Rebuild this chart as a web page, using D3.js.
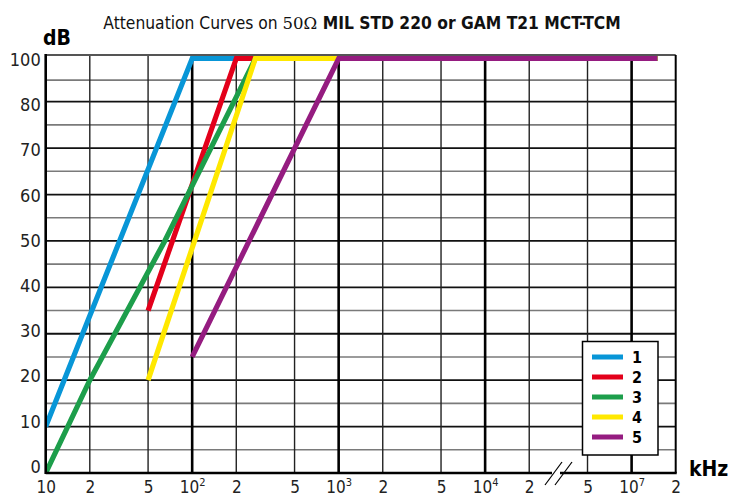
<!DOCTYPE html>
<html>
<head>
<meta charset="utf-8">
<script src="https://cdn.jsdelivr.net/npm/d3@7"></script>
<style>
  body { margin: 0; background: #fff; }
  svg { display: block; }
</style>
</head>
<body>
<svg id="chart" width="729" height="497"></svg>
<script>
// ---- data -------------------------------------------------------------
// Frequency ticks in kHz (the decades between 2·10^4 and 5·10^6 are cut out)
const freqTicks   = [10, 20, 50, 100, 200, 500, 1000, 2000, 5000, 10000, 20000, 5e6, 1e7, 2e7];
const freqLabels  = [["10",""],["2",""],["5",""],["10","2"],["2",""],["5",""],["10","3"],
                     ["2",""],["5",""],["10","4"],["2",""],["5",""],["10","7"],["2",""]];
const decadeTicks = [100, 1000, 10000, 1e7];

// Attenuation ticks in dB (labelled lines and the unlabelled lines between them)
const dbTicks  = [0, 10, 20, 30, 40, 50, 60, 70, 80, 100];
const dbMinor  = [5, 15, 25, 35, 45, 55, 65, 75, 90];

// Curves: [frequency kHz, attenuation dB]
const seriesNames  = ["1", "2", "3", "4", "5"];
const seriesColors = ["#0896d7", "#e3001b", "#1d9e4b", "#ffe800", "#951c80"];
const curve1 = [[10, 10], [100, 100], [1.5e7, 100]];
const curve2 = [[50, 35], [200, 100], [1.5e7, 100]];
const curve3 = [[10, 0], [20, 20], [65, 50], [270, 100], [1.5e7, 100]];
const curve4 = [[50, 20], [270, 100], [1.5e7, 100]];
const curve5 = [[100, 25], [1000, 100], [1.5e7, 100]];
const curves = [curve1, curve2, curve3, curve4, curve5];

// ---- scales -----------------------------------------------------------
const svg = d3.select("#chart");
const plotL = 45.7, plotR = 675.7, plotT = 55, plotB = 473;

// values past the break are folded down by two decades
const BREAK_AT = 1e5, SKIP = 100;
const fold = v => (v > BREAK_AT ? v / SKIP : v);
const xLog = d3.scaleLog().domain([10, 2e5]).range([plotL, plotR]);
const x = v => xLog(fold(v));
// the 100 dB level sits just under the top edge of the frame
const y = d3.scaleLinear().domain([0, 80, 100]).range([plotB, 101.7, 58.5]);

// ---- grid -------------------------------------------------------------
const grid = svg.append("g");
grid.selectAll("line.hminor").data(dbMinor).join("line")
  .attr("x1", plotL).attr("x2", plotR)
  .attr("y1", d => y(d)).attr("y2", d => y(d))
  .attr("stroke", "#7a7a7a").attr("stroke-width", 1.6);
grid.selectAll("line.hmajor").data(dbTicks.filter(d => d > 0 && d < 100)).join("line")
  .attr("x1", plotL).attr("x2", plotR)
  .attr("y1", d => y(d)).attr("y2", d => y(d))
  .attr("stroke", "#111").attr("stroke-width", 1.8);
grid.selectAll("line.v").data(freqTicks.slice(1, -1)).join("line")
  .attr("x1", d => x(d)).attr("x2", d => x(d))
  .attr("y1", plotT).attr("y2", plotB)
  .attr("stroke", d => decadeTicks.includes(d) ? "#000" : "#222")
  .attr("stroke-width", d => decadeTicks.includes(d) ? 2.6 : 1.4);

// ---- curves -----------------------------------------------------------
svg.append("clipPath").attr("id", "plot")
  .append("rect").attr("x", plotL).attr("y", plotT)
  .attr("width", plotR - plotL).attr("height", plotB - plotT);

const line = d3.line().x(d => x(d[0])).y(d => y(d[1]));
svg.append("g").attr("clip-path", "url(#plot)")
  .selectAll("path").data(curves).join("path")
  .attr("d", line)
  .attr("fill", "none")
  .attr("stroke", (d, i) => seriesColors[i])
  .attr("stroke-width", 5.2)
  .attr("stroke-linejoin", "miter");

// ---- frame ------------------------------------------------------------
const frame = svg.append("g");
frame.append("line").attr("x1", plotL).attr("x2", plotR).attr("y1", plotT).attr("y2", plotT)
  .attr("stroke", "#555").attr("stroke-width", 2);
frame.append("line").attr("x1", plotR).attr("x2", plotR).attr("y1", plotT).attr("y2", plotB)
  .attr("stroke", "#000").attr("stroke-width", 2);
frame.append("line").attr("x1", plotL).attr("x2", plotL).attr("y1", plotT - 1).attr("y2", plotB + 1)
  .attr("stroke", "#000").attr("stroke-width", 2.6);
frame.append("line").attr("x1", plotL).attr("x2", plotR + 1).attr("y1", plotB).attr("y2", plotB)
  .attr("stroke", "#000").attr("stroke-width", 2.6);

// axis break marks
const brk = svg.append("g");
brk.append("rect").attr("x", 552).attr("y", plotB - 3).attr("width", 8).attr("height", 6).attr("fill", "#fff");
[[545, 562], [555, 572]].forEach(([a, b]) => {
  brk.append("line").attr("x1", a).attr("y1", 485).attr("x2", b).attr("y2", 462)
    .attr("stroke", "#000").attr("stroke-width", 1.2);
});

// ---- axes -------------------------------------------------------------
const labelFont = "'DejaVu Sans Condensed', 'Liberation Sans Narrow', Roboto, sans-serif";

// dB labels are spread a little tighter than the grid lines
const labelY = d3.scaleLinear().domain([plotB, plotT]).range([467, 60]);
const yAxis = svg.append("g")
  .attr("transform", `translate(${plotL - 5},0)`)
  .call(d3.axisLeft(y).tickValues(dbTicks).tickSize(0).tickPadding(0));
yAxis.select(".domain").remove();
yAxis.selectAll(".tick").attr("transform", d => {
  const p = d === 100 ? plotT : y(d);
  return `translate(0,${labelY(p)})`;
});
yAxis.selectAll("text")
  .attr("font-family", labelFont).attr("font-size", 18).attr("fill", "#222");

const xAxis = svg.append("g")
  .attr("transform", `translate(0,${plotB})`)
  .call(d3.axisBottom(xLog).tickValues(freqTicks.map(fold)).tickSize(0).tickFormat(""));
xAxis.select(".domain").remove();
xAxis.selectAll(".tick text").remove();
xAxis.selectAll(".tick").each(function (d, i) {
  const [base, sup] = freqLabels[i];
  const t = d3.select(this).append("text")
    .attr("y", 20).attr("fill", "#222")
    .attr("font-family", labelFont).attr("font-size", 17)
    .attr("text-anchor", "middle");
  t.append("tspan").text(base);
  if (sup) t.append("tspan").attr("dy", -7).attr("font-size", 11).text(sup);
});

// ---- titles -----------------------------------------------------------
const title = svg.append("text")
  .attr("x", 362).attr("y", 29).attr("text-anchor", "middle")
  .attr("font-family", labelFont).attr("font-size", 17.3).attr("fill", "#111");
title.append("tspan").text("Attenuation Curves on ");
title.append("tspan").attr("font-family", "'DejaVu Serif', serif").attr("font-size", 16.5).text("50Ω");
title.append("tspan").attr("font-weight", "bold").text(" MIL STD 220 or GAM T21 MCT-TCM");

svg.append("text").attr("x", 43).attr("y", 45)
  .attr("font-family", labelFont).attr("font-weight", "bold").attr("font-size", 21)
  .attr("fill", "#000").text("dB");
svg.append("text").attr("x", 689).attr("y", 476)
  .attr("font-family", labelFont).attr("font-weight", "bold").attr("font-size", 21)
  .attr("fill", "#000").text("kHz");

// ---- legend -----------------------------------------------------------
const legend = svg.append("g");
legend.append("rect").attr("x", 582.5).attr("y", 341.5).attr("width", 75.5).attr("height", 113.5)
  .attr("fill", "#fff").attr("stroke", "#000").attr("stroke-width", 1.5);
const rows = legend.selectAll("g.row").data(seriesNames).join("g")
  .attr("transform", (d, i) => `translate(0,${357 + i * 20})`);
rows.append("line").attr("x1", 592).attr("x2", 623).attr("y1", 0).attr("y2", 0)
  .attr("stroke", (d, i) => seriesColors[i]).attr("stroke-width", 5);
rows.append("text").attr("x", 637).attr("y", 0).attr("dy", "0.36em")
  .attr("text-anchor", "middle")
  .attr("font-family", labelFont).attr("font-weight", "bold").attr("font-size", 16)
  .attr("fill", "#000").text(d => d);
</script>
</body>
</html>
